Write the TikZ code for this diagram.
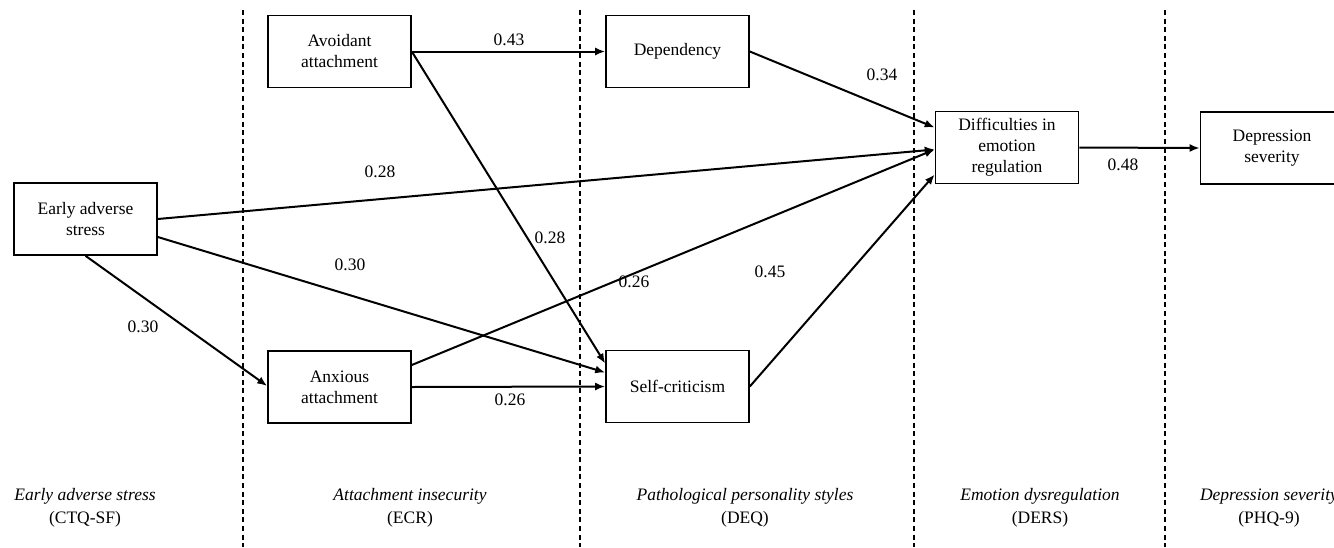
\documentclass[tikz,border=0pt]{standalone}
\usepackage{fontspec}
\setmainfont{Liberation Serif}
\usetikzlibrary{arrows.meta,calc}
\begin{document}
\begin{tikzpicture}[x=0.5pt,y=-0.5pt,
  box/.style={draw,line width=0.8pt,minimum width=71.5pt,minimum height=36pt,align=center,inner sep=1pt,font=\fontsize{8.75}{10.5}\selectfont},
  arr/.style={line width=1pt,-{Latex[length=5pt,width=4pt]}},
  divider/.style={line width=0.6pt,dash pattern=on 2.5pt off 1.8pt},
  coef/.style={font=\fontsize{8.75}{10.5}\selectfont,inner sep=0pt},
  cat/.style={align=center,font=\fontsize{8.75}{11.5}\selectfont,inner sep=0pt}]
\useasboundingbox (0,0) rectangle (1334,547);
% dividers
\foreach \x/\n in {243/d1,580/d2,914/d3,1165/d4}{
  \coordinate (\n t) at (\x,10);
  \coordinate (\n b) at (\x,547);
  \draw[divider] (\n t) -- (\n b);
}
% boxes
\node[box] (ea) at (85.5,219) {Early adverse\\stress};
\node[box] (av) at (339.5,51.5) {Avoidant\\attachment};
\node[box] (an) at (339.5,387) {Anxious\\attachment};
\node[box] (dep) at (677.5,51.5) {Dependency};
\node[box] (sc) at (677.5,386.5) {Self-criticism};
\node[box] (dif) at (1007,147.5) {Difficulties in\\emotion\\regulation};
\node[box] (ds) at (1272,148) {Depression\\severity};
% arrows
\draw[arr] ($(ea.east)+(0,0)$) -- ($(dif.west)+(0,2)$);
\draw[arr] ($(ea.east)+(0,18)$) -- ($(sc.west)+(0,-14)$);
\draw[arr] ($(ea.south)+(0,0)$) -- ($(an.west)+(0,-1)$);
\draw[arr] ($(av.east)+(0,0)$) -- ($(dep.west)+(0,0)$);
\draw[arr] ($(av.east)+(0,0)$) -- ($(sc.west)+(0,-23)$);
\draw[arr] ($(an.east)+(0,0)$) -- ($(sc.west)+(0,0)$);
\draw[arr] ($(an.east)+(0,-22)$) -- ($(dif.west)+(0,2)$);
\draw[arr] ($(dep.east)+(0,0)$) -- ($(dif.west)+(0,-20)$);
\draw[arr] ($(sc.east)+(0,0)$) -- ($(dif.west)+(0,27)$);
\draw[arr] (dif.east) -- (ds.west);
% coefficients
\node[coef] (c1) at (509,40) {0.43};
\node[coef] (c2) at (882,75) {0.34};
\node[coef] (c3) at (380,172) {0.28};
\node[coef] (c4) at (550,238) {0.28};
\node[coef] (c5) at (350,265) {0.30};
\node[coef] (c6) at (634,282) {0.26};
\node[coef] (c7) at (770,272) {0.45};
\node[coef] (c8) at (143,327) {0.30};
\node[coef] (c9) at (510,400) {0.26};
\node[coef] (c10) at (1123,165) {0.48};
% categories
\node[cat] (k1) at (85,508) {\textit{Early adverse stress}\\(CTQ-SF)};
\node[cat] (k2) at (410,508) {\textit{Attachment insecurity}\\(ECR)};
\node[cat] (k3) at (745,508) {\textit{Pathological personality styles}\\(DEQ)};
\node[cat] (k4) at (1040,508) {\textit{Emotion dysregulation}\\(DERS)};
\node[cat] (k5) at (1269,508) {\textit{Depression severity}\\(PHQ-9)};
\end{tikzpicture}
\end{document}
